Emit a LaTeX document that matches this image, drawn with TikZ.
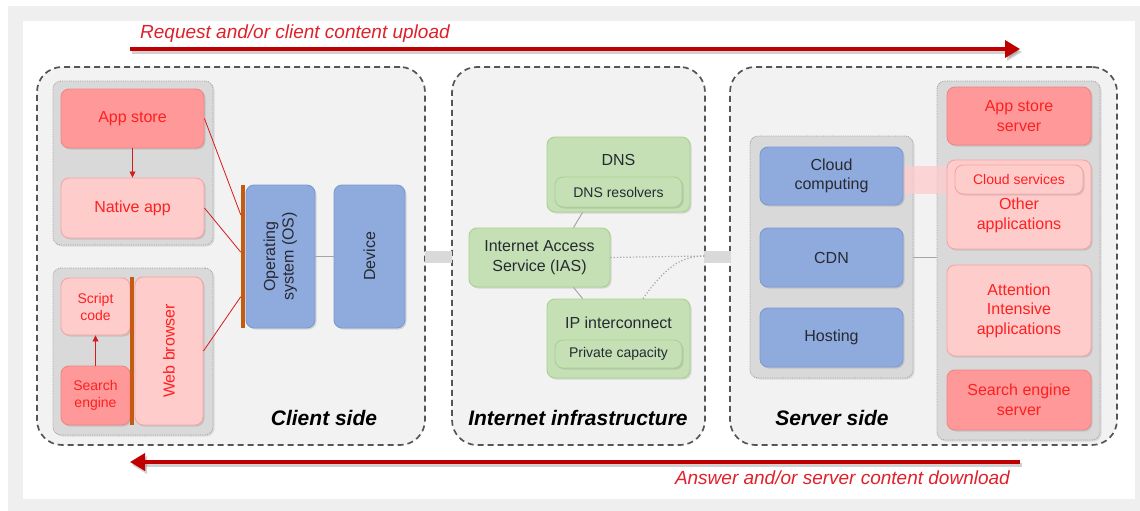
\documentclass[tikz,border=0pt]{standalone}
\usepackage{fontspec}
\setmainfont{Liberation Sans}
\usetikzlibrary{shadows,arrows.meta,calc}
\definecolor{framegray}{HTML}{EFEFEF}
\definecolor{secfill}{HTML}{F2F2F2}
\definecolor{secline}{HTML}{555555}
\definecolor{grpfill}{HTML}{D9D9D9}
\definecolor{grpline}{HTML}{A0A0A0}
\definecolor{pinkd}{HTML}{FF9999}
\definecolor{pinkdl}{HTML}{F08585}
\definecolor{pinkl}{HTML}{FFCCCC}
\definecolor{pinkll}{HTML}{F4A4A4}
\definecolor{bluef}{HTML}{8FAADC}
\definecolor{bluel}{HTML}{7C9AD2}
\definecolor{greenf}{HTML}{C5E0B4}
\definecolor{greenl}{HTML}{A9D18E}
\definecolor{redtxt}{HTML}{FF1F1F}
\definecolor{darktxt}{HTML}{262A33}
\definecolor{arrred}{HTML}{C00000}
\definecolor{arrtxt}{HTML}{E0202A}
\definecolor{orangebar}{HTML}{C55A11}
\definecolor{connline}{HTML}{A6A6A6}
\newcommand\fsz[2]{\fontsize{#1}{#2}\selectfont}
\tikzset{
  boxbase/.style={rounded corners=8pt, draw, line width=0.9pt, align=center, inner sep=0pt,
    font=\fsz{16}{19.5}, drop shadow={opacity=0.25, shadow xshift=1.5pt, shadow yshift=-1.5pt}},
  pinkdark/.style={boxbase, fill=pinkd, draw=pinkdl, text=redtxt},
  pinklight/.style={boxbase, fill=pinkl, draw=pinkll, text=redtxt},
  bluebox/.style={boxbase, fill=bluef, draw=bluel, text=darktxt},
  greenbox/.style={boxbase, fill=greenf, draw=greenl, text=darktxt},
  smallfont/.style={font=\fsz{14}{17}},
  groupbox/.style={rounded corners=8pt, fill=grpfill, draw=grpline, densely dotted, line width=0.8pt, inner sep=0pt,
    drop shadow={opacity=0.2, shadow xshift=1.5pt, shadow yshift=-1.5pt}},
  section/.style={rounded corners=25pt, fill=secfill, draw=secline, dash pattern=on 6pt off 4pt, line width=1.7pt, inner sep=0pt},
  bartitle/.style={font=\fsz{21}{25}\bfseries\itshape, text=black, inner sep=0pt},
  orbar/.style={fill=orangebar, draw=none, inner sep=0pt, minimum width=4pt},
  redline/.style={draw=redtxt!85!black, line width=0.8pt},
  redarrow/.style={redline, -{Triangle[length=6pt,width=6pt]}},
  greyconn/.style={draw=connline, line width=1pt},
  gapbar/.style={fill=grpfill, draw=none, inner sep=0pt, minimum width=27pt, minimum height=12pt},
  bigarrow/.style={draw=arrred, line width=3.5pt, -{Triangle[length=15pt,width=17pt]}},
  bigshadow/.style={draw=black, opacity=0.18, line width=3.5pt, -{Triangle[length=15pt,width=17pt]}},
  arrowlabel/.style={font=\fsz{19}{22}\itshape, text=arrtxt, inner sep=0pt},
  dotconn/.style={draw=connline, line width=1.2pt, dotted}
}
\begin{document}
\begin{tikzpicture}[x=1pt,y=-1pt]
\useasboundingbox (0,0) rectangle (1140,511);
% frame
\fill[white] (0,0) rectangle (1140,511);
\fill[framegray] (8,6) rectangle (1140,511);
\fill[white] (23,21) rectangle (1135,499);

% arrows
\coordinate (ta1) at (130,49);
\coordinate (ta2) at (1020,49);
\coordinate (ba1) at (1020,462);
\coordinate (ba2) at (130,462);
\draw[bigshadow] ($(ta1)+(2,3)$) -- ($(ta2)+(2,3)$);
\draw[bigarrow] (ta1) -- (ta2);
\draw[bigshadow] ($(ba1)+(2,3)$) -- ($(ba2)+(2,3)$);
\draw[bigarrow] (ba1) -- (ba2);
\node[arrowlabel, anchor=base west] (uplabel) at (140,38) {Request and/or client content upload};
\node[arrowlabel, anchor=base east] (downlabel) at (1010,484) {Answer and/or server content download};

% sections
\node[section, minimum width=388pt, minimum height=378pt] (client) at (231,256) {};
\node[section, minimum width=253pt, minimum height=378pt] (inet) at (578.5,256) {};
\node[section, minimum width=387pt, minimum height=378pt] (server) at (923.5,256) {};

% gap bars
\node[gapbar] (gap1) at (438.5,257) {};
\node[gapbar] (gap2) at (717.5,257) {};

% ---------- client side ----------
\node[groupbox, minimum width=160pt, minimum height=164pt] (grpapp) at (133,163) {};
\node[groupbox, minimum width=160pt, minimum height=167pt] (grpweb) at (133,351.5) {};
\node[pinkdark, minimum width=143pt, minimum height=59pt] (appstore) at (132.5,118.5) {App store};
\node[pinklight, minimum width=143pt, minimum height=60pt] (native) at (132.5,208) {Native app};
\node[pinklight, smallfont, minimum width=69pt, minimum height=57pt] (script) at (95.5,306.5) {Script\\code};
\node[pinkdark, smallfont, minimum width=69pt, minimum height=59pt] (search) at (95.5,395.5) {Search\\engine};
\node[orbar, minimum height=148pt] (webbar) at (131.5,351) {};
\node[pinklight, minimum width=68pt, minimum height=148pt] (browser) at (169,351) {\rotatebox{90}{Web browser}};
\node[orbar, minimum height=143pt] (osbar) at (243,256.5) {};
\node[bluebox, minimum width=69pt, minimum height=143pt] (os) at (280.5,256.5)
  {\rotatebox{90}{\begin{tabular}{@{}c@{}}Operating\\[-1pt]system (OS)\end{tabular}}};
\node[bluebox, minimum width=71pt, minimum height=143pt] (device) at (369.5,256.5) {\rotatebox{90}{Device}};
\node[bartitle] (clienttitle) at (324,418) {Client side};

\draw[redarrow] (appstore.south) -- (native.north);
\draw[redarrow] (search.north) -- (script.south);
\draw[redline] (appstore.east) -- ($(osbar.north west)!0.21!(osbar.south west)$);
\draw[redline] (native.east) -- ($(osbar.north west)!0.47!(osbar.south west)$);
\draw[redline] (browser.east) -- ($(osbar.north west)!0.78!(osbar.south west)$);
\draw[greyconn] (os.east) -- (device.west);

% ---------- internet ----------
\node[greenbox, minimum width=143pt, minimum height=75pt] (dns) at (618.5,174.5) {};
\node[font=\fsz{16}{19.5}, text=darktxt, inner sep=0pt] (dnstext) at (618.5,160) {DNS};
\node[greenbox, smallfont, minimum width=127pt, minimum height=30pt] (resolvers) at (618.5,192) {DNS resolvers};
\node[greenbox, minimum width=141pt, minimum height=59pt] (ias) at (539.5,257.5) {Internet Access\\Service (IAS)};
\node[greenbox, minimum width=143pt, minimum height=79pt] (ip) at (618.5,338.5) {};
\node[font=\fsz{16}{19.5}, text=darktxt, inner sep=0pt] (iptext) at (618.5,323) {IP interconnect};
\node[greenbox, smallfont, minimum width=127pt, minimum height=28pt] (private) at (618.5,354) {Private capacity};
\node[bartitle] (inettitle) at (578,418) {Internet infrastructure};

\draw[greyconn] ($(dns.south west)!0.25!(dns.south east)$) -- ($(ias.north west)!0.74!(ias.north east)$);
\draw[greyconn] ($(ias.south west)!0.74!(ias.south east)$) -- ($(ip.north west)!0.25!(ip.north east)$);
\coordinate (ibord) at (705,256);
\draw[dotconn] (ias.east) -- (ibord);
\draw[dotconn] ($(ip.north west)!0.67!(ip.north east)$) .. controls (665,268) and (680,256) .. (ibord);

% ---------- server side ----------
\node[groupbox, minimum width=163pt, minimum height=242pt] (grpinfra) at (831.5,257) {};
\node[groupbox, minimum width=163pt, minimum height=359pt] (grpapps) at (1018.5,260.5) {};
\draw[greyconn] (grpinfra.east) -- (grpinfra.east -| grpapps.west);
\node[fill=pinkl, opacity=0.75, draw=none, inner sep=0pt, minimum width=50pt, minimum height=28pt] (cloudband) at (928,179.5) {};
\node[bluebox, minimum width=143pt, minimum height=58pt] (cloud) at (831.5,176) {Cloud\\computing};
\node[bluebox, minimum width=143pt, minimum height=59pt] (cdn) at (831.5,257.5) {CDN};
\node[bluebox, minimum width=143pt, minimum height=59pt] (hosting) at (831.5,337.5) {Hosting};
\node[pinkdark, minimum width=144pt, minimum height=58pt] (appserver) at (1019,116) {App store\\server};
\node[pinklight, minimum width=144pt, minimum height=89pt] (other) at (1019,204.5) {};
\node[font=\fsz{16}{19.5}, text=redtxt, align=center, inner sep=0pt] (othertext) at (1019,215.5) {Other\\applications};
\node[pinklight, smallfont, minimum width=128pt, minimum height=29pt] (cloudserv) at (1019,179.5) {Cloud services};
\node[pinklight, minimum width=144pt, minimum height=91pt] (attention) at (1019,310.5) {Attention\\Intensive\\applications};
\node[pinkdark, minimum width=144pt, minimum height=60pt] (searchserver) at (1019,400) {Search engine\\server};
\node[bartitle] (servertitle) at (832,418) {Server side};
\end{tikzpicture}
\end{document}
